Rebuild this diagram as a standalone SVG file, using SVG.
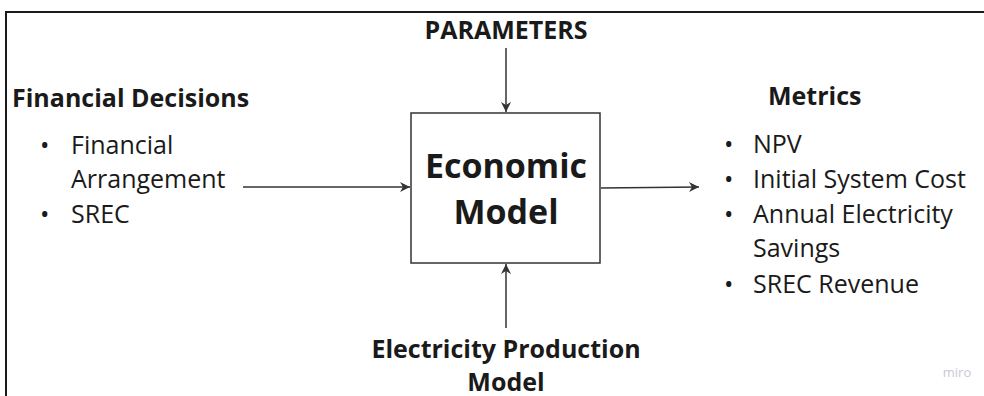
<svg xmlns="http://www.w3.org/2000/svg" width="984" height="396" viewBox="0 0 984 396">
<defs>
<marker id="ah" viewBox="0 0 12 12" refX="11" refY="6" markerWidth="12" markerHeight="12" markerUnits="userSpaceOnUse" orient="auto">
<path d="M1,1 L11,6 L1,11 L4,6 Z" fill="#333"/>
</marker>
<style>
.b{font-family:"Open Sans","Liberation Sans",sans-serif;font-weight:700;fill:#1a1a1a}
.r{font-family:"Open Sans","Liberation Sans",sans-serif;font-weight:400;fill:#1a1a1a;font-size:25px}
.c{stroke:#333;stroke-width:1.5;fill:none;marker-end:url(#ah)}
</style>
</defs>
<rect width="984" height="396" fill="#fff"/>
<path d="M6,396 V12 H984" fill="none" stroke="#1a1a1a" stroke-width="2"/>
<g id="parameters"><text class="b" x="506" y="39" font-size="25" text-anchor="middle">PARAMETERS</text></g>
<g id="financial-decisions">
<text class="b" x="12" y="107" font-size="25">Financial Decisions</text>
<text class="r" x="40" y="154">•</text>
<text class="r" x="71" y="154">Financial</text>
<text class="r" x="71" y="188">Arrangement</text>
<text class="r" x="40" y="223">•</text>
<text class="r" x="71" y="223">SREC</text>
</g>
<g id="economic-model">
<rect x="411" y="113" width="189" height="150" fill="#fff" stroke="#333" stroke-width="1.5"/>
<text class="b" x="506" y="178" font-size="34" text-anchor="middle">Economic</text>
<text class="b" x="506" y="224" font-size="34" text-anchor="middle">Model</text>
</g>
<g id="metrics">
<text class="b" x="768" y="105" font-size="25">Metrics</text>
<text class="r" x="724" y="153">•</text><text class="r" x="753" y="153">NPV</text>
<text class="r" x="724" y="188">•</text><text class="r" x="753" y="188">Initial System Cost</text>
<text class="r" x="724" y="223">•</text><text class="r" x="753" y="223">Annual Electricity</text>
<text class="r" x="753" y="257">Savings</text>
<text class="r" x="724" y="293">•</text><text class="r" x="753" y="293">SREC Revenue</text>
</g>
<g id="electricity-production-model">
<text class="b" x="506" y="358" font-size="25" text-anchor="middle">Electricity Production</text>
<text class="b" x="506" y="391" font-size="25" text-anchor="middle">Model</text>
</g>
<g id="watermark"><text x="957" y="377" font-family="Open Sans, sans-serif" font-size="13" fill="#c8c8d6" text-anchor="middle">miro</text></g>
<g id="connectors">
<line class="c" x1="506" y1="48" x2="506" y2="112"/>
<line class="c" x1="243" y1="187" x2="410" y2="187"/>
<line class="c" x1="601" y1="188" x2="699" y2="187"/>
<line class="c" x1="506" y1="328" x2="506" y2="264"/>
</g>
</svg>
